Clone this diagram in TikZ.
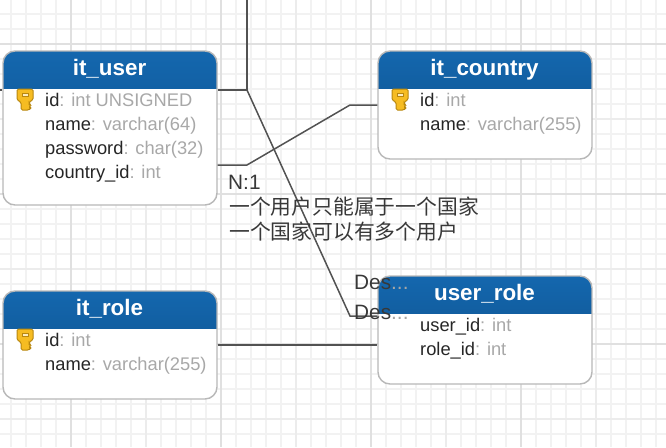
\documentclass[tikz,border=0pt]{standalone}
\usepackage{fontspec}
\setmainfont{Liberation Sans}
\newfontfamily\cjk{Noto Sans CJK SC}
\usetikzlibrary{positioning}

\definecolor{gridminor}{HTML}{F2F2F2}
\definecolor{gridmid}{HTML}{ECECEC}
\definecolor{gridmajor}{HTML}{E0E0E0}
\definecolor{headtop}{HTML}{1467AE}
\definecolor{headbottom}{HTML}{0D4E88}
\definecolor{keygold}{HTML}{F6BC22}
\definecolor{keyedge}{HTML}{B8870F}
\definecolor{fieldtype}{HTML}{A8A8A8}

\newcommand{\fieldrow}[2]{{\color{black!85}#1}{\color{fieldtype}: #2}}

\tikzset{
  tablebox/.style={anchor=north west, draw=black!28, line width=1.4pt, fill=white,
    rounded corners=12pt, minimum width=214pt, minimum height=#1, inner sep=0pt,
    path picture={\shade[sharp corners, top color=headtop, bottom color=headbottom]
      (path picture bounding box.north west) rectangle
      ([yshift=-37pt]path picture bounding box.north east);}},
  tabletitle/.style={anchor=base, text=white, inner sep=0pt, font=\fontsize{22.4}{26}\selectfont\bfseries},
  fieldtext/.style={anchor=base west, inner sep=0pt, font=\fontsize{18.3}{22}\selectfont},
  notetext/.style={anchor=base west, inner sep=0pt, text=black!78, font=\fontsize{20.8}{25}\selectfont},
  relline/.style={draw=black!68, line width=1.5pt},
  keyicon/.pic={
    \fill[keygold, draw=keyedge, line width=1pt, rounded corners=1.5pt]
      (-8,-10) -- (8,-10) -- (8,1) -- (4,3) -- (4,5) -- (6,6) -- (4,8) -- (6,9) -- (4,11) -- (-4,11) -- (-4,3) -- (-8,1) -- cycle;
    \draw[keyedge, fill=white!70!keygold, line width=1pt] (-3,-6) rectangle (3,-3);
  }
}

\begin{document}
\begin{tikzpicture}[x=1pt,y=-1pt]

  % background grid
  \useasboundingbox (0,0) rectangle (666,447);
  \foreach \x in {11,26,...,656} \draw[gridminor, line width=1.4pt] (\x,0) -- (\x,447);
  \foreach \y in {14,29,...,434} \draw[gridminor, line width=1.4pt] (0,\y) -- (666,\y);
  \foreach \x in {146,296,446,596} \draw[gridmid, line width=1.4pt] (\x,0) -- (\x,447);
  \foreach \y in {119,269,419} \draw[gridmid, line width=1.4pt] (0,\y) -- (666,\y);
  \foreach \x in {71,221,371,521} \draw[gridmajor, line width=1.4pt] (\x,0) -- (\x,447);
  \foreach \y in {44,194,344} \draw[gridmajor, line width=1.4pt] (0,\y) -- (666,\y);

  % tables
  \node[tablebox=154pt] (it_user) at (2.3,50.3) {};
  \node[tablebox=108pt] (it_country) at (377.3,50.3) {};
  \node[tablebox=108pt] (it_role) at (2.3,290.3) {};
  \node[tablebox=108pt] (user_role) at (377.3,275.3) {};

  % bend points of the connectors
  \coordinate (topend) at (247,0);
  \coordinate (leftend) at (0,90);
  \coordinate (bendid) at (247,90);
  \coordinate (bendrole) at (350,316);
  \coordinate (bendfk) at (247,165);
  \coordinate (bendcountry) at (350,105);
  \coordinate (rolemid) at (297,345);

  % connectors
  \draw[relline] (topend) -- (bendid) -- (it_user.east |- bendid);
  \draw[relline] (leftend) -- (it_user.west |- leftend);
  \draw[relline] (bendid) -- (bendrole) -- (user_role.west |- bendrole);
  \draw[relline] (it_user.east |- bendfk) -- (bendfk) -- (bendcountry) -- (it_country.west |- bendcountry);
  \draw[relline] (it_role.east |- rolemid) -- (user_role.west |- rolemid);

  % titles
  \node[tabletitle] (it_user_title) at (109.5,75) {it\_user};
  \node[tabletitle] (it_country_title) at (484.5,75) {it\_country};
  \node[tabletitle] (it_role_title) at (109.5,315) {it\_role};
  \node[tabletitle] (user_role_title) at (484.5,300) {user\_role};

  % fields
  \node[fieldtext] (user_id) at (45,106) {\fieldrow{id}{int UNSIGNED}};
  \node[fieldtext] (user_name) at (45,130) {\fieldrow{name}{varchar(64)}};
  \node[fieldtext] (user_password) at (45,154) {\fieldrow{password}{char(32)}};
  \node[fieldtext] (user_country) at (45,178) {\fieldrow{country\_id}{int}};
  \node[fieldtext] (country_id) at (420,106) {\fieldrow{id}{int}};
  \node[fieldtext] (country_name) at (420,130) {\fieldrow{name}{varchar(255)}};
  \node[fieldtext] (role_id) at (45,346) {\fieldrow{id}{int}};
  \node[fieldtext] (role_name) at (45,370) {\fieldrow{name}{varchar(255)}};
  \node[fieldtext] (link_user) at (420,331) {\fieldrow{user\_id}{int}};
  \node[fieldtext] (link_role) at (420,355) {\fieldrow{role\_id}{int}};

  % key icons
  \pic at (25,99) {keyicon};
  \pic at (400,99) {keyicon};
  \pic at (25,339) {keyicon};

  % notes
  \node[notetext] (note_ratio) at (228,189) {N:1};
  \node[notetext] (note_one) at (229,214) {\cjk 一个用户只能属于一个国家};
  \node[notetext] (note_two) at (229,239) {\cjk 一个国家可以有多个用户};
  \node[notetext] (des_one) at (354,289) {Des{\color{black!35}...}};
  \node[notetext] (des_two) at (354,319) {Des{\color{black!35}...}};

\end{tikzpicture}
\end{document}
